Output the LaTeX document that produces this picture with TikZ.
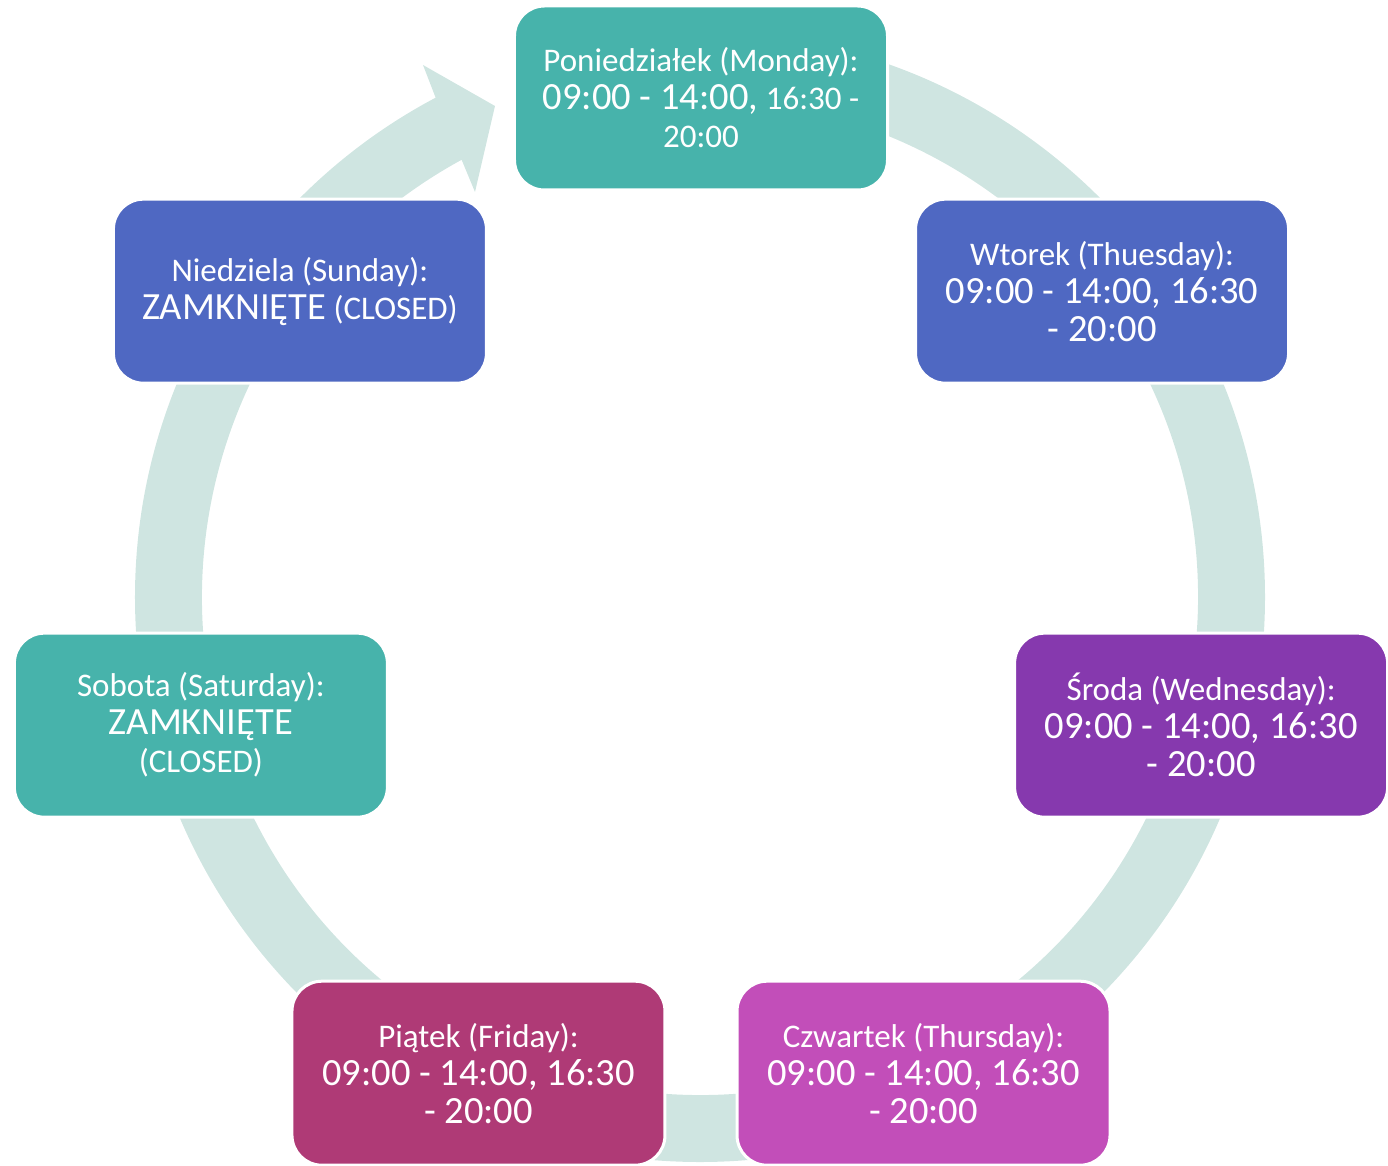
\documentclass[tikz,border=0pt]{standalone}
\usepackage{fontspec}
\setmainfont{Carlito}
\usepackage{tikz}
\usetikzlibrary{calc}

\definecolor{ringgrey}{HTML}{CFE5E1}
\definecolor{dayteal}{HTML}{47B3AB}
\definecolor{dayblue}{HTML}{4F68C2}
\definecolor{daypurple}{HTML}{8639AE}
\definecolor{dayorchid}{HTML}{C24EB9}
\definecolor{daymagenta}{HTML}{AF3A76}

\newcommand{\bighours}[1]{{\fontsize{38.5}{38}\selectfont #1}}

\begin{document}
\begin{tikzpicture}[x=1pt, y=1pt,
	day/.style={draw=white, line width=3pt, rounded corners=30pt,
		minimum width=373pt, minimum height=184pt, inner sep=0pt,
		text=white, align=center, font=\fontsize{33}{38}\selectfont}]

\useasboundingbox (-700,-568) rectangle (688,597);

% ring with arrow head
\fill[ringgrey] (90:565) arc[start angle=90, end angle=-242.1, radius=565]
	-- (-277,532) -- (-205,491) -- (-225,405)
	-- (-241.4:498) arc[start angle=-241.4, end angle=90, radius=498] -- cycle;

\coordinate (hub) at (1,-14);

\node[day, fill=dayteal] (mon) at ($(hub)+(90:513)$)
	{Poniedziałek (Monday):\\ \bighours{09:00 - 14:00,} 16:30 -\\ 20:00};
\node[day, fill=dayblue] (tue) at ($(hub)+(38.57:513)$)
	{Wtorek (Thuesday):\\ \bighours{09:00 - 14:00, 16:30}\\ \bighours{- 20:00}};
\node[day, fill=daypurple] (wed) at ($(hub)+(-12.86:513)$)
	{Środa (Wednesday):\\ \bighours{09:00 - 14:00, 16:30}\\ \bighours{- 20:00}};
\node[day, fill=dayorchid] (thu) at ($(hub)+(-64.29:513)$)
	{Czwartek (Thursday):\\ \bighours{09:00 - 14:00, 16:30}\\ \bighours{- 20:00}};
\node[day, fill=daymagenta] (fri) at ($(hub)+(-115.71:513)$)
	{Piątek (Friday):\\ \bighours{09:00 - 14:00, 16:30}\\ \bighours{- 20:00}};
\node[day, fill=dayteal] (sat) at ($(hub)+(-167.14:513)$)
	{Sobota (Saturday):\\ \bighours{ZAMKNIĘTE}\\ (CLOSED)};
\node[day, fill=dayblue] (sun) at ($(hub)+(141.43:513)$)
	{Niedziela (Sunday):\\ \bighours{ZAMKNIĘTE} (CLOSED)};

\end{tikzpicture}
\end{document}
